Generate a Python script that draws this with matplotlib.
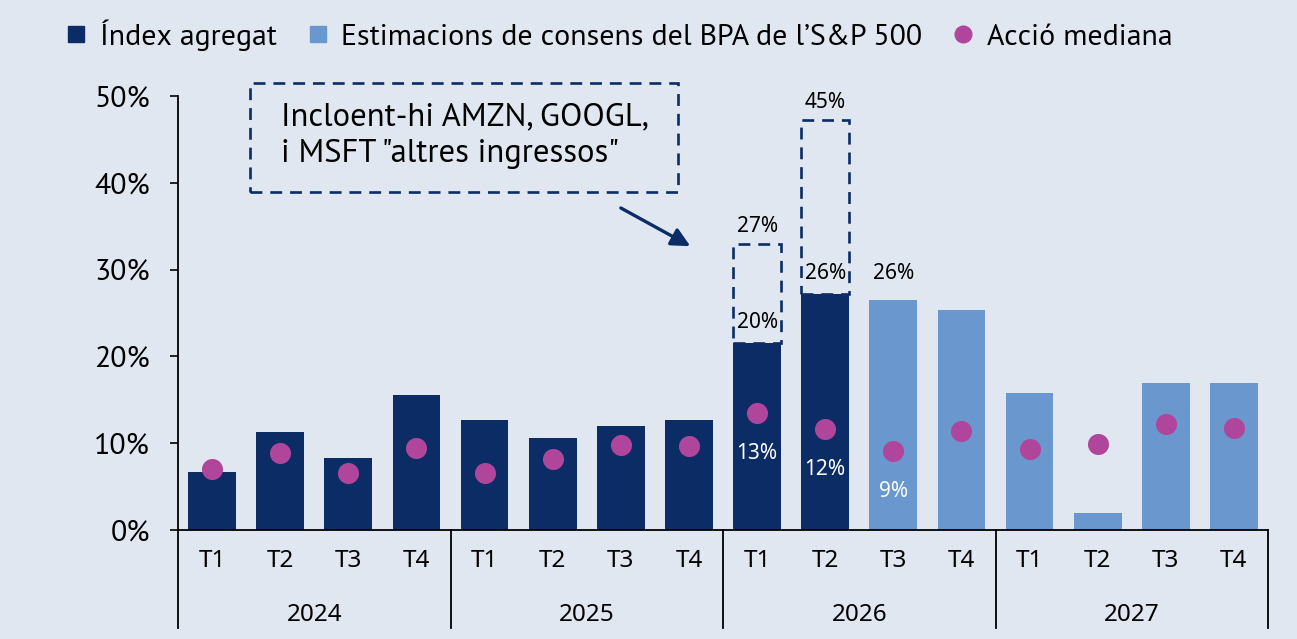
import matplotlib
matplotlib.use("Agg")
import matplotlib.pyplot as plt
import matplotlib.transforms as mtransforms
from matplotlib.patches import Rectangle
from matplotlib.lines import Line2D

plt.rcParams['font.family'] = ['PT Sans', 'DejaVu Sans']

# data (percent)
years = ["2024", "2025", "2026", "2027"]
quarters = ["T1", "T2", "T3", "T4"]
index_agg = [6.7, 11.3, 8.3, 15.6, 12.7, 10.6, 12.0, 12.7, 21.5, 27.2]
consensus = [26.5, 25.3, 15.8, 2.0, 16.9, 16.9]
median = [7.0, 8.9, 6.6, 9.4, 6.6, 8.2, 9.8, 9.7, 13.5, 11.6, 9.1, 11.4, 9.3, 9.9, 12.2, 11.8]

# incl. "other income" (dashed boxes on 2026 T1, T2)
other_idx = [8, 9]
other_top = [32.9, 47.2]
other_lbl = ["27%", "45%"]

bar_lbl_idx = [8, 9, 10]
bar_lbl = ["20%", "26%", "26%"]
med_lbl_idx = [8, 9, 10]
med_lbl = ["13%", "12%", "9%"]

bg = "#E1E7F1"
dark = "#0B2C64"
light = "#6A97CD"
pink = "#B0469B"

n = len(years) * len(quarters)
x = list(range(n))
heights = index_agg + consensus
x_act = x[:len(index_agg)]
x_est = x[len(index_agg):]
w = 0.7

fig = plt.figure(figsize=(12.97, 6.39), dpi=100, facecolor=bg)
ax = fig.add_axes([178 / 1297, 109 / 639, 1090 / 1297, 434 / 639])
ax.set_facecolor(bg)

ax.bar(x_act, index_agg, width=w, color=dark, zorder=2)
ax.bar(x_est, consensus, width=w, color=light, zorder=2)
ax.scatter(x, median, s=230, color=pink, zorder=4, linewidths=0)

for i, top, lab in zip(other_idx, other_top, other_lbl):
    ax.add_patch(Rectangle((i - w / 2, heights[i]), w, top - heights[i], fill=False,
                           ec=dark, lw=1.9, ls=(0, (4.5, 3)), zorder=3, clip_on=False))
    ax.annotate(lab, (i, top), xytext=(0, 13), textcoords="offset points",
                ha="center", va="center", fontsize=15, family="Noto Sans", annotation_clip=False)

for i, lab in zip(bar_lbl_idx, bar_lbl):
    # the two 26% labels sit on one line
    base = heights[i] if i == bar_lbl_idx[0] else max(heights[j] for j in bar_lbl_idx[1:])
    ax.annotate(lab, (i, base), xytext=(0, 15), textcoords="offset points",
                ha="center", va="center", fontsize=15, family="Noto Sans", zorder=5)

for i, lab in zip(med_lbl_idx, med_lbl):
    ax.annotate(lab, (i, median[i]), xytext=(0, -29), textcoords="offset points",
                ha="center", va="center", fontsize=15, family="Noto Sans", color="white", zorder=5)

# callout
ax.add_patch(Rectangle((0.557, 38.9), 6.28, 12.6, fill=False, ec=dark, lw=1.9,
                       ls=(0, (4.5, 3)), clip_on=False))
ax.text(1.01, 45.4, 'Incloent-hi AMZN, GOOGL,\ni MSFT "altres ingressos"', ha="left", va="center",
        fontsize=23.5, linespacing=1.3)
ax.annotate("", xy=(7.02, 32.7), xytext=(6.0, 37.1), annotation_clip=False,
            arrowprops=dict(arrowstyle="-|>", color=dark, lw=2.4, mutation_scale=28, shrinkA=0, shrinkB=0))

ax.set_xlim(-0.5, n - 0.5)
ax.set_ylim(0, 50)
ax.set_yticks(range(0, 51, 10))
ax.set_yticklabels([f"{v}%" for v in range(0, 51, 10)], fontsize=21.5)
ax.tick_params(axis="y", length=6, width=1.2, pad=14)
ax.set_xticks(x)
ax.set_xticklabels(quarters * len(years), fontsize=17.5, family="Noto Sans")
ax.tick_params(axis="x", length=0, pad=14)

for s in ["top", "right"]:
    ax.spines[s].set_visible(False)
ax.spines["left"].set_linewidth(1.3)
ax.spines["bottom"].set_linewidth(1.3)

trans = mtransforms.blended_transform_factory(ax.transData, ax.transAxes)
for k in range(len(years) + 1):
    b = k * len(quarters) - 0.5
    ax.plot([b, b], [0, -0.226], transform=trans, color="black", lw=1.3, clip_on=False)
for k, yr in enumerate(years):
    ax.text(k * len(quarters) + 1.5, -0.196, yr, transform=trans, ha="center", va="center",
            fontsize=17.5, family="Noto Sans")

handles = [
    Line2D([], [], marker="s", ls="", color=dark, markersize=12),
    Line2D([], [], marker="s", ls="", color=light, markersize=12),
    Line2D([], [], marker="o", ls="", color=pink, markersize=12),
]
labels = ["Índex agregat", "Estimacions de consens del BPA de l’S&P 500", "Acció mediana"]
fig.legend(handles, labels, loc="center left", bbox_to_anchor=(66 / 1297, 1 - 35 / 639),
           ncol=3, frameon=False, fontsize=21.5, handlelength=0.7, handletextpad=0.45,
           columnspacing=1.0, borderpad=0, borderaxespad=0)

fig.savefig("out.png", dpi=100, facecolor=bg)
